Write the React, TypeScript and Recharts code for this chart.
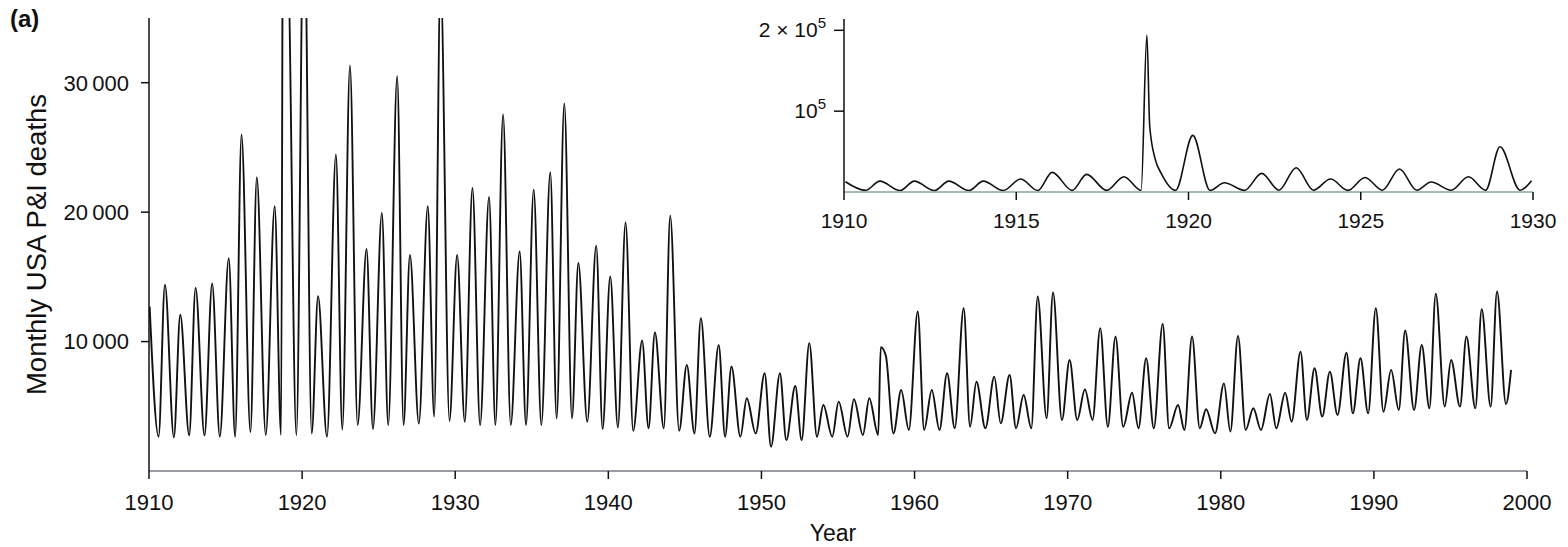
import { LineChart, Line, XAxis, YAxis } from 'recharts';

// Monthly USA P&I deaths: one winter peak and one summer trough per season
const startYear = 1910;

const peakDeaths = [
  12700, 14400, 12070, 14150, 14500, 16450, 26000, 22700, 20450, 40000,
  45000, 13500, 24450, 31340, 17150, 19940, 30500, 16700, 20450, 38000,
  16700, 21870, 21180, 27550, 16960, 21740, 23080, 28400, 16070, 17410,
  15030, 19210, 10080, 10700, 19730, 8200, 11810, 9740, 8070, 5620,
  7550, 7550, 6570, 9880, 5100, 5360, 5540, 5620, 8900, 6260,
  12320, 6260, 7550, 12580, 6900, 7290, 7420, 5870, 13480, 13790,
  8580, 6310, 11040, 10390, 6050, 8710, 11370, 5100, 10390, 4770,
  6770, 10440, 4850, 5950, 6050, 9220, 7940, 7680, 9140, 8710,
  12580, 7810, 10850, 9740, 13690, 8580, 10390, 12500, 13870,
];

// month of the winter peak (1 = January)
const peakMonth = [
  1, 1, 1, 1, 2, 3, 1, 1, 3, 1,
  2, 1, 3, 2, 3, 3, 3, 1, 3, 1,
  2, 2, 3, 2, 3, 2, 3, 2, 1, 3,
  2, 2, 3, 1, 1, 2, 1, 3, 1, 1,
  3, 3, 3, 2, 1, 1, 1, 1, 2, 2,
  3, 2, 2, 3, 1, 3, 3, 2, 1, 1,
  2, 2, 2, 2, 3, 2, 3, 3, 2, 1,
  3, 2, 2, 3, 3, 3, 2, 2, 3, 2,
  2, 2, 1, 2, 1, 1, 1, 1, 1,
];

// late-summer minimum of each year
const troughDeaths = [
  2650, 2600, 2750, 2750, 2650, 2650, 3000, 2780, 2780, 2780,
  2900, 2650, 3200, 3550, 3250, 3550, 3550, 3660, 4200, 3880,
  3800, 3550, 3550, 3550, 3550, 3550, 4070, 4070, 3800, 3250,
  3360, 3100, 3300, 3300, 3110, 2900, 2650, 2650, 2650, 2900,
  1875, 2390, 2390, 2650, 2650, 2650, 2780, 2780, 2900, 3170,
  3170, 3170, 3300, 3420, 3300, 3680, 3300, 3300, 4070, 3940,
  3940, 3940, 3420, 3420, 3300, 3300, 3300, 3170, 3300, 2910,
  3040, 3170, 3170, 3300, 3810, 3940, 4200, 4330, 4450, 4450,
  4580, 4710, 4710, 4850, 4970, 4970, 4850, 4970, 5180,
];

// autumn epidemics and the last month of the record
const extraMonths = [
  { year: 1918, month: 10, deaths: 62000 },
  { year: 1918, month: 11, deaths: 48000 },
  { year: 1918, month: 12, deaths: 38000 },
  { year: 1957, month: 10, deaths: 9570 },
  { year: 1998, month: 12, deaths: 7810 },
];

// inset, 1910-1929, on its own scale
const insetPeak = [
  12700, 13500, 13500, 13500, 13500, 16000, 24300, 21800, 18900, 39500,
  70000, 11500, 23000, 30000, 16000, 18000, 28400, 12300, 18900, 56000,
];
const insetPeakMonth = [1, 1, 1, 1, 1, 2, 1, 1, 2, 1, 2, 1, 2, 2, 2, 2, 2, 1, 2, 1];
const insetTrough = [
  2000, 1800, 1800, 1800, 1800, 1800, 2000, 2000, 2000, 2000,
  2000, 2000, 2200, 2200, 2000, 2200, 2200, 2200, 2200, 2200,
];
const insetExtra = [
  { year: 1918, month: 10, deaths: 194000 },
  { year: 1918, month: 11, deaths: 81000 },
  { year: 1919, month: 3, deaths: 23000 },
  { year: 1929, month: 12, deaths: 14000 },
];

const mainTicks = [1910, 1920, 1930, 1940, 1950, 1960, 1970, 1980, 1990, 2000];
const mainYTicks = [10000, 20000, 30000];
const insetTicks = [1910, 1915, 1920, 1925, 1930];
const insetYTicks = [100000, 200000];

const TROUGH_MONTH = 8;
const toTime = (year: number, month: number) => year + (month - 0.5) / 12;

function buildSeries(
  peaks: number[],
  months: number[],
  troughs: number[],
  extra: { year: number; month: number; deaths: number }[]
) {
  const rows: { t: number; deaths: number }[] = [];
  peaks.forEach((p, i) => {
    const year = startYear + i;
    rows.push({ t: toTime(year, months[i]), deaths: p });
    rows.push({ t: toTime(year, TROUGH_MONTH), deaths: troughs[i] });
  });
  extra.forEach((e) => rows.push({ t: toTime(e.year, e.month), deaths: e.deaths }));
  return rows.sort((a, b) => a.t - b.t);
}

const mainData = buildSeries(peakDeaths, peakMonth, troughDeaths, extraMonths);
const insetData = buildSeries(insetPeak, insetPeakMonth, insetTrough, insetExtra);

const font = '"Liberation Sans", Arial, Helvetica, sans-serif';

const PowerTick = (props: any) => {
  const { x, y, payload } = props;
  const prefix = payload.value === 200000 ? '2 \u00d7 ' : '';
  return (
    <text x={x} y={y} dy={7} textAnchor="end" fontSize={21} fontFamily={font} fill="#111">
      {prefix}10
      <tspan dy={-9} fontSize={15}>
        5
      </tspan>
    </text>
  );
};

const App = () => {
  return (
    <div style={{ position: 'relative', width: 1568, height: 547, background: '#fff' }}>
      <style>{'body{margin:0}'}</style>
      <LineChart width={1568} height={547} data={mainData} margin={{ top: 18, right: 41, left: 0, bottom: 0 }}>
        <XAxis
          type="number"
          dataKey="t"
          domain={[1910, 2000]}
          ticks={mainTicks}
          allowDataOverflow
          height={76}
          tickSize={8}
          tickMargin={15}
          axisLine={{ stroke: '#77778a', strokeWidth: 1.5 }}
          tickLine={{ stroke: '#111', strokeWidth: 1.5 }}
          tick={{ fill: '#111', fontSize: 22, fontFamily: font }}
          label={{ value: 'Year', position: 'insideBottom', offset: 6, dx: -5, fill: '#111', fontSize: 23, fontFamily: font }}
        />
        <YAxis
          type="number"
          domain={[0, 35000]}
          ticks={mainYTicks}
          allowDataOverflow
          width={149}
          tickSize={8}
          tickMargin={12}
          axisLine={{ stroke: '#111', strokeWidth: 1.5 }}
          tickLine={{ stroke: '#111', strokeWidth: 1.5 }}
          tick={{ fill: '#111', fontSize: 22, fontFamily: font }}
          tickFormatter={(v: number) => `${v / 1000}\u2009000`}
          label={{
            value: 'Monthly USA P&I deaths',
            angle: -90,
            position: 'insideLeft',
            offset: 36,
            dx: 0,
            fill: '#111',
            fontSize: 27.5,
            fontFamily: font,
            style: { textAnchor: 'middle' },
          }}
        />
        <Line
          type="monotone"
          dataKey="deaths"
          stroke="#111"
          strokeWidth={1.9}
          dot={false}
          isAnimationActive={false}
        />
      </LineChart>

      <div style={{ position: 'absolute', left: 700, top: 0 }}>
        <LineChart width={868} height={232} data={insetData} margin={{ top: 19, right: 35, left: 0, bottom: 0 }}>
          <XAxis
            type="number"
            dataKey="t"
            domain={[1910, 1930]}
            ticks={insetTicks}
            allowDataOverflow
            height={40}
            tickSize={8}
            tickMargin={13}
            axisLine={{ stroke: '#8aa39b', strokeWidth: 1.5 }}
            tickLine={{ stroke: '#111', strokeWidth: 1.5 }}
            tick={{ fill: '#111', fontSize: 21, fontFamily: font }}
          />
          <YAxis
            type="number"
            domain={[0, 214000]}
            ticks={insetYTicks}
            allowDataOverflow
            width={144}
            tickSize={10}
            tickMargin={8}
            axisLine={{ stroke: '#111', strokeWidth: 1.5 }}
            tickLine={{ stroke: '#111', strokeWidth: 1.5 }}
            tick={<PowerTick />}
          />
          <Line
            type="monotone"
            dataKey="deaths"
            stroke="#111"
            strokeWidth={1.6}
            dot={false}
            isAnimationActive={false}
          />
        </LineChart>
      </div>

      <svg width={60} height={50} style={{ position: 'absolute', left: 0, top: 0 }}>
        <text x={10} y={27} fontSize={24} fontWeight="bold" fontFamily={font} fill="#111">
          (a)
        </text>
      </svg>
    </div>
  );
};

export default App;
